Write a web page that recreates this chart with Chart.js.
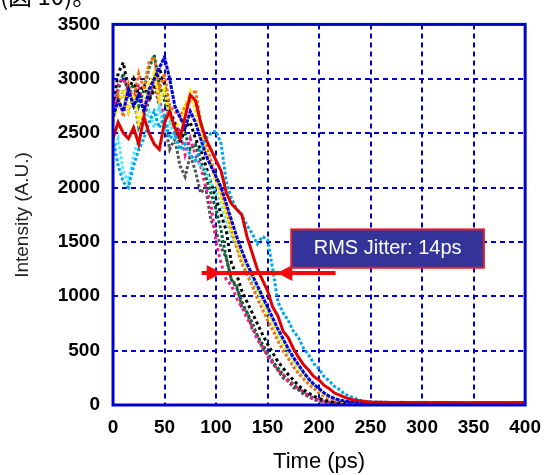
<!DOCTYPE html>
<html>
<head>
<meta charset="utf-8">
<script src="https://cdn.jsdelivr.net/npm/chart.js@4"></script>
<style>
  html, body { margin: 0; padding: 0; background: #fff; }
</style>
</head>
<body>
<canvas id="jitter-chart" width="552" height="475"></canvas>
<script>
// DATA
// time axis (ps) shared by every trace
const times = [0,5,10,15,20,25,30,35,40,45, 50,55,60,65,70,75,80,85,90,95,
  100,105,110,115,120,125,130,135,140,145, 150,155,160,165,170,175,180,185,190,195,
  200,205,210,215,220,225,230,235,240,245, 250,260,270,280,300,320,340,360,380,400];

// intensity of each streak-camera trace (A.U.)
const redTrace = [2450,2600,2500,2450,2550,2400,2650,2500,2400,2350, 2600,2700,2550,2450,2650,2850,2800,2600,2450,2350,
  2250,2150,1950,1850,1800,1750,1550,1400,1250,1150, 1050,900,820,680,620,520,440,370,320,260,
  230,180,150,110,90,70,55,45,38,32, 28,25,22,24,20,22,19,21,20,22];
const skyTrace = [2450,2200,2050,2000,2200,2350,2450,2600,2700,2550, 2650,2450,2500,2350,2400,2300,2250,2350,2450,2500,
  2520,2400,2050,1900,1800,1750,1650,1580,1480,1550, 1520,1250,950,850,780,680,620,520,460,380,
  330,260,220,170,140,100,80,60,45,35, 30,26,24,22,25,21,23,20,22,24];
const blueTrace = [2650,2800,2700,2900,2750,2850,2700,2900,3000,3100, 3200,3000,2750,2650,2550,2700,2600,2450,2300,2200,
  2100,2000,1850,1700,1550,1420,1300,1200,1100,1000, 900,800,700,610,520,440,370,300,240,190,
  150,110,80,60,45,36,30,26,24,22, 20,22,24,21,20,23,21,22,20,24];
const yellowTrace = [2600,2750,2900,2700,2850,2600,2750,2950,3050,2800, 2900,2650,2550,2600,2750,2880,2700,2500,2350,2200,
  2050,1900,1750,1600,1480,1350,1270,1200,1080,950, 850,760,660,570,490,420,340,280,230,180,
  140,100,75,55,42,32,26,24,22,20, 22,24,20,23,21,25,22,20,23,24];
const orangeTrace = [2700,2850,2650,2950,2800,3050,2900,3150,3200,2900, 3050,2750,2700,2650,2750,2800,2900,2600,2400,2250,
  2100,1950,1800,1600,1450,1300,1200,1100,980,880, 780,690,590,500,430,350,290,240,190,150,
  110,80,60,45,34,28,24,22,24,21, 23,20,22,25,21,20,23,21,22,20];
const cyanTrace = [2300,2450,2150,2050,2300,2450,2600,2700,2550,2750, 2500,2600,2450,2350,2400,2300,2250,2200,2150,2050,
  1950,1850,1700,1550,1450,1350,1250,1150,1050,950, 850,760,650,560,480,400,330,270,220,170,
  130,100,75,55,42,32,26,22,24,21, 20,23,21,22,20,24,21,23,20,22];
const blackTrace = [2750,3050,3150,2900,3000,2850,2950,2800,2900,3100, 2950,2700,2600,2400,2550,2600,2450,2350,2200,2050,
  1900,1750,1600,1300,1200,1050,950,850,750,650, 560,480,400,340,280,230,180,140,110,80,
  60,45,34,28,24,22,20,22,21,20, 22,20,21,23,20,22,21,20,22,21];
const pinkTrace = [2600,2950,3000,2900,2800,2950,2700,2850,3000,2800, 2650,2700,2500,2550,2300,2450,2300,2200,2000,1850,
  1500,1300,1150,1100,980,900,800,720,600,540, 450,390,320,280,220,190,150,120,80,60,
  45,34,26,22,20,22,21,20,23,21, 20,22,20,21,23,20,22,20,21,23];
const greenTrace = [2650,2900,3050,2850,2950,2750,2900,3100,3220,2950, 2800,2650,2550,2450,2500,2350,2400,2250,2100,1950,
  1800,1600,1350,1150,1080,950,850,760,640,560, 480,400,340,280,230,190,150,120,90,60,
  42,32,26,22,21,20,22,21,20,22, 21,20,22,20,21,22,20,21,22,20];
const grayTrace = [2800,2750,2900,2700,2850,2550,2650,2800,2950,2750, 2600,2350,2450,2200,2100,2300,2150,1950,2000,1700,
  1600,1450,1350,1150,1100,900,860,700,640,520, 460,380,320,250,220,160,140,100,75,50,
  36,28,24,22,20,21,20,22,20,21, 20,22,21,20,22,20,21,20,22,21];

// annotation: jitter span (ps) and level (A.U.)
const jitterLabel = "RMS Jitter: 14ps";
const jitterArrowX = [86, 216];
const jitterHeads = [91, 174];
const jitterArrowY = 1215;
const jitterBoxX = [173, 360];
const jitterBoxY = [1262, 1615];

const traces = [
  { data: redTrace, color: "#e00000", dash: [] },
  { data: skyTrace, color: "#00a8e8", dash: [3, 2] },
  { data: blueTrace, color: "#0000dd", dash: [4, 1] },
  { data: yellowTrace, color: "#ffea00", dash: [3, 2] },
  { data: orangeTrace, color: "#f07018", dash: [3, 2] },
  { data: cyanTrace, color: "#50e8ff", dash: [3, 2] },
  { data: blackTrace, color: "#000000", dash: [3, 3] },
  { data: pinkTrace, color: "#ee1c8c", dash: [3, 3] },
  { data: greenTrace, color: "#006633", dash: [3, 2] },
  { data: grayTrace, color: "#555555", dash: [3, 2] }
];

const datasets = traces.map(t => ({
  data: times.map((tx, i) => ({ x: tx, y: t.data[i] })),
  borderColor: t.color,
  borderWidth: 3,
  borderDash: t.dash,
  pointRadius: 0,
  tension: 0,
  fill: false
}));

// frame, annotation box, arrow and titles
const overlayPlugin = {
  id: "overlay",
  afterDraw(chart) {
    const ctx = chart.ctx;
    const a = chart.chartArea;
    const x = chart.scales.x;
    const y = chart.scales.y;
    ctx.save();

    // arrow
    const ay = y.getPixelForValue(jitterArrowY);
    const ax1 = x.getPixelForValue(jitterArrowX[0]);
    const ax2 = x.getPixelForValue(jitterArrowX[1]);
    ctx.strokeStyle = "#f00a0a";
    ctx.fillStyle = "#f00a0a";
    ctx.lineWidth = 4;
    ctx.beginPath();
    ctx.moveTo(ax1, ay);
    ctx.lineTo(ax2, ay);
    ctx.stroke();
    const h1 = x.getPixelForValue(jitterHeads[0]);
    const h2 = x.getPixelForValue(jitterHeads[1]);
    ctx.beginPath();
    ctx.moveTo(h1, ay - 8); ctx.lineTo(h1 + 15, ay); ctx.lineTo(h1, ay + 8); ctx.closePath();
    ctx.fill();
    ctx.beginPath();
    ctx.moveTo(h2, ay - 8); ctx.lineTo(h2 - 15, ay); ctx.lineTo(h2, ay + 8); ctx.closePath();
    ctx.fill();

    // box
    const bx1 = x.getPixelForValue(jitterBoxX[0]);
    const bx2 = x.getPixelForValue(jitterBoxX[1]);
    const by1 = y.getPixelForValue(jitterBoxY[1]);
    const by2 = y.getPixelForValue(jitterBoxY[0]);
    ctx.fillStyle = "#333399";
    ctx.fillRect(bx1, by1, bx2 - bx1, by2 - by1);
    ctx.strokeStyle = "#e02030";
    ctx.lineWidth = 2;
    ctx.strokeRect(bx1, by1, bx2 - bx1, by2 - by1);
    ctx.fillStyle = "#ffffff";
    ctx.font = '20px "Liberation Sans", Arial, sans-serif';
    ctx.textAlign = "center";
    ctx.textBaseline = "middle";
    ctx.fillText(jitterLabel, (bx1 + bx2) / 2, (by1 + by2) / 2);

    // solid frame
    ctx.strokeStyle = "#0000cc";
    ctx.lineWidth = 3;
    ctx.strokeRect(a.left, a.top, a.right - a.left, a.bottom - a.top);

    // axis titles
    ctx.fillStyle = "#000";
    ctx.font = '22px "Liberation Sans", Arial, sans-serif';
    ctx.fillText("Time (ps)", (a.left + a.right) / 2, 462);
    ctx.save();
    ctx.translate(23, 215);
    ctx.rotate(-Math.PI / 2);
    ctx.fillStyle = "#222";
    ctx.font = '19px "Liberation Sans", Arial, sans-serif';
    ctx.fillText("Intensity (A.U.)", 0, 0);
    ctx.restore();

    // caption fragment cut by the top edge
    ctx.textAlign = "left";
    ctx.textBaseline = "alphabetic";
    ctx.font = '24px "Noto Sans CJK JP"';
    ctx.fillText("(図 10)。", 0, 5);
    ctx.restore();
  }
};

const tickFont = { family: '"Liberation Sans", Arial, sans-serif', size: 19, weight: "bold" };

new Chart("jitter-chart", {
  type: "line",
  data: { datasets: datasets },
  options: {
    responsive: false,
    animation: false,
    devicePixelRatio: 1,
    layout: { padding: { left: 0, top: 22, right: 22, bottom: 0 } },
    plugins: { legend: { display: false }, tooltip: { enabled: false } },
    scales: {
      x: {
        type: "linear",
        min: 0,
        max: 400,
        ticks: { stepSize: 50, color: "#000", font: tickFont, padding: 11, maxRotation: 0,
                 callback: (v) => String(v) },
        grid: { color: "#0000cc", lineWidth: 2, drawTicks: false },
        border: { display: false, dash: [5, 4] },
        afterFit: (scale) => { scale.height = 70; }
      },
      y: {
        min: 0,
        max: 3500,
        ticks: { stepSize: 500, color: "#000", font: tickFont, padding: 13,
                 callback: (v) => String(v) },
        grid: { color: "#0000cc", lineWidth: 2, drawTicks: false },
        border: { display: false, dash: [5, 4] },
        afterFit: (scale) => { scale.width = 113; }
      }
    }
  },
  plugins: [overlayPlugin]
});
</script>
</body>
</html>
